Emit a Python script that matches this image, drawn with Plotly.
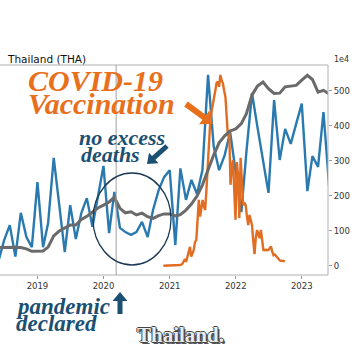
import math
import pandas as pd
import plotly.graph_objects as go

# ---------------- data ----------------
months = pd.date_range("2018-06-01", "2023-06-01", freq="MS")
deaths_monthly = [
    16, 73, 116, 26, 151, 82, 53,
    239, 53, 122, 308, 173, 39, 173, 76, 151, 193, 111, 199,
    285, 93, 211, 108, 96, 88, 96, 125, 82, 159, 216, 253,
    273, 59, 278, 188, 245, 205, 273, 545, 342, 273, 316, 382,
    268, 153, 325, 493, 396, 302, 208, 473, 302, 391, 348, 405,
    463, 213, 313, 282, 439, 228,
]
deaths_trend = [
    52, 53, 54, 53, 52, 48, 41,
    41, 42, 53, 85, 99, 108, 116, 116, 132, 141, 153, 165,
    173, 182, 195, 164, 151, 154, 145, 150, 140, 135, 143, 148,
    148, 142, 146, 159, 176, 199, 231, 276, 316, 351, 371, 385,
    391, 406, 434, 488, 513, 525, 506, 492, 493, 511, 512, 515,
    530, 544, 532, 496, 501, 491,
]
vacc_start = "2020-11-27"
vaccinations = [
    0, 0, 0, 0, 0, 0, 0, 0, 0, 0, 0, 0, 0, 2, 3, 5, 12, 19, 11, 25,
    36, 54, 26, 38, 45, 68, 73, 130, 188, 140, 160, 188, 170, 159, 216, 290,
    345, 411, 440, 460, 468, 500, 522, 526, 511, 545, 530, 521, 500, 483,
    426, 369, 388, 231, 280, 302, 211, 131, 296, 259, 136, 308, 240, 173,
    180, 173, 140, 116, 145, 130, 116, 70, 33, 80, 102, 90, 79, 102, 70,
    45, 44, 46, 44, 45, 50, 55, 40, 30, 32, 27, 25, 20, 15, 14, 13, 12, 13,
]
vacc_dates = pd.date_range(vacc_start, periods=len(vaccinations), freq="7D")

year_ticks = ["2019-01-01", "2020-01-01", "2021-01-01", "2022-01-01", "2023-01-01"]
year_labels = ["2019", "2020", "2021", "2022", "2023"]
y_ticks = [0, 100, 200, 300, 400, 500]
pandemic_date = "2020-03-11"

# ---------------- figure ----------------
ORANGE_LINE = "#e06d22"
BLUE_LINE = "#2a7ab0"
GREY_LINE = "#6a6a6a"
ORANGE_TXT = "#e8701c"
TEAL_TXT = "#1b5073"

fig = go.Figure()
fig.add_trace(go.Scatter(x=months, y=deaths_monthly, mode="lines",
                         line=dict(color=BLUE_LINE, width=2.4), hoverinfo="skip"))
fig.add_trace(go.Scatter(x=vacc_dates, y=vaccinations, mode="lines",
                         line=dict(color=ORANGE_LINE, width=2.4), hoverinfo="skip"))
fig.add_trace(go.Scatter(x=months, y=deaths_trend, mode="lines",
                         line=dict(color=GREY_LINE, width=3), hoverinfo="skip"))

PW, PT, PB = 328.0, 65.0, 275.0


def PX(x):
    return x / PW


def PY(y):
    return (PB - y) / (PB - PT)


ann = []


def text(s, x, y, size, color, family="Liberation Serif", weight="bold", style="italic",
         anchor="left", shadow=None):
    f = dict(family=family, size=size, color=color, weight=weight, style=style)
    if shadow:
        f["shadow"] = shadow
    ann.append(dict(text=s, x=PX(x), y=PY(y), xref="paper", yref="paper",
                    xanchor=anchor, yanchor="middle", showarrow=False, font=f))


def block_arrow(tx, ty, hx, hy, shaft_w, head_w, head_len, color):
    L = math.hypot(hx - tx, hy - ty)
    dx, dy = (hx - tx) / L, (hy - ty) / L
    nx, ny = -dy, dx
    bx, by = hx - dx * head_len, hy - dy * head_len
    pts = [
        (tx + nx * shaft_w / 2, ty + ny * shaft_w / 2),
        (bx + nx * shaft_w / 2, by + ny * shaft_w / 2),
        (bx + nx * head_w / 2, by + ny * head_w / 2),
        (hx, hy),
        (bx - nx * head_w / 2, by - ny * head_w / 2),
        (bx - nx * shaft_w / 2, by - ny * shaft_w / 2),
        (tx - nx * shaft_w / 2, ty - ny * shaft_w / 2),
    ]
    path = "M " + " L ".join(f"{PX(px):.5f},{PY(py):.5f}" for px, py in pts) + " Z"
    return dict(type="path", xref="paper", yref="paper", path=path,
                fillcolor=color, line=dict(width=0), layer="above")


text("Thailand (THA)", 5, 59, 10.5, "#111111", family="DejaVu Sans", weight="normal", style="normal")
text("1e4", 332, 59, 8, "#333333", family="DejaVu Sans", weight="normal", style="normal")
text("COVID-19", 26, 80, 30, ORANGE_TXT)
text("Vaccination", 26, 103, 30, ORANGE_TXT)
text("no excess", 77, 137, 22, TEAL_TXT)
text("deaths", 79, 154, 22, TEAL_TXT)
text("pandemic", 14, 306, 23, TEAL_TXT)
text("declared", 14, 323, 23, TEAL_TXT)

# "Thailand." logo
text("Thailand.", 180, 335, 21, "#ececec", weight="bold", style="normal", anchor="center",
     shadow="1px 0 0 #444, -1px 0 0 #444, 0 1px 0 #444, 0 -1px 0 #444, 2px 2px 0 #555")

shapes = [
    dict(type="line", xref="paper", yref="paper", x0=0, x1=1, y0=1, y1=1,
         line=dict(color="#b0b0b0", width=1)),
    dict(type="line", xref="paper", yref="paper", x0=1, x1=1, y0=0, y1=1,
         line=dict(color="#b0b0b0", width=1)),
    dict(type="line", xref="paper", yref="paper", x0=0, x1=1, y0=0, y1=0,
         line=dict(color="#b0b0b0", width=1)),
    dict(type="line", xref="x", yref="paper", x0=pandemic_date, x1=pandemic_date, y0=0, y1=1,
         line=dict(color="#a0a0a0", width=1)),
    dict(type="circle", xref="paper", yref="paper", x0=PX(93), x1=PX(171), y0=PY(265), y1=PY(173),
         line=dict(color="#1c3a55", width=1.3)),
    block_arrow(186, 104, 213, 124, 6, 17, 11, ORANGE_TXT),
    block_arrow(167, 146, 147, 164, 5, 14, 9, TEAL_TXT),
    block_arrow(120, 314, 120, 292, 5, 15, 9, TEAL_TXT),
]

fig.update_layout(
    width=360, height=360,
    margin=dict(l=0, r=32, t=65, b=85),
    paper_bgcolor="white", plot_bgcolor="white",
    showlegend=False,
    annotations=ann, shapes=shapes,
    xaxis=dict(range=["2018-06-08", "2023-05-26"], tickvals=year_ticks, ticktext=year_labels,
               showgrid=False, zeroline=False, ticks="outside", ticklen=3, tickcolor="#999999",
               tickfont=dict(family="DejaVu Sans", size=8.5, color="#333333")),
    yaxis=dict(range=[-26.6, 573.4], side="right", tickvals=y_ticks,
               showgrid=False, zeroline=False, ticks="outside", ticklen=3, tickcolor="#999999",
               tickfont=dict(family="DejaVu Sans", size=8.5, color="#333333")),
)

fig.write_html("out.html", config={"displayModeBar": False},
               post_script="document.body.style.margin='0';document.body.style.overflow='hidden';")
